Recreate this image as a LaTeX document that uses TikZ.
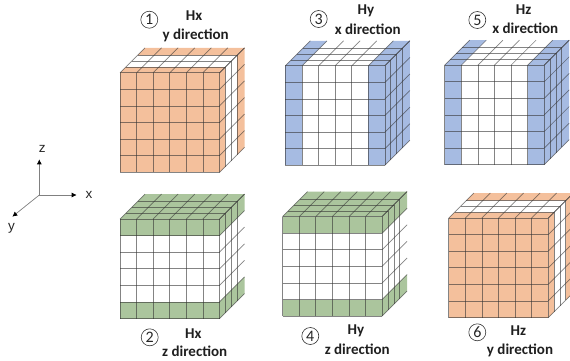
\documentclass[tikz,border=0pt]{standalone}
\usepackage{fontspec}
\setmainfont{Carlito}
\newfontfamily\axisfont{Liberation Sans}
\definecolor{cuOrange}{HTML}{F4C09C}
\definecolor{cuBlue}{HTML}{A6BBE2}
\definecolor{cuGreen}{HTML}{ABC59D}
\tikzset{
  gridline/.style={draw=black!80,line width=0.7pt,opacity=0.6},
  caption/.style={font=\bfseries\fontsize{15}{17}\selectfont,inner sep=0pt,text=black!88},
  numring/.style={circle,draw=black!80,line width=0.6pt,minimum size=17pt,inner sep=0pt,font=\fontsize{16}{18}\selectfont,text=black!85},
  axisline/.style={draw=black!50,line width=0.7pt,-{Latex[length=5pt,width=5pt,black]}},
  axislabel/.style={font=\axisfont\fontsize{13.5}{15}\selectfont,inner sep=0pt,text=black!85}
}
\usetikzlibrary{arrows.meta}
\newcommand{\cw}{99.5}
\newcommand{\cd}{25}
% top-face patch: u from,to (fractions of width); v from,to (fractions of depth)
\newcommand{\toppatch}[5]{\fill[#5] ({#1*\cw+#3*\cd},{-#3*\cd}) -- ({#2*\cw+#3*\cd},{-#3*\cd}) -- ({#2*\cw+#4*\cd},{-#4*\cd}) -- ({#1*\cw+#4*\cd},{-#4*\cd}) -- cycle;}
% side-face patch: t from,to (fractions of height); v from,to
\newcommand{\sidepatch}[5]{\fill[#5] ({\cw+#3*\cd},{#1*\cw-#3*\cd}) -- ({\cw+#3*\cd},{#2*\cw-#3*\cd}) -- ({\cw+#4*\cd},{#2*\cw-#4*\cd}) -- ({\cw+#4*\cd},{#1*\cw-#4*\cd}) -- cycle;}
\newcommand{\cubegrid}{%
  \foreach \k in {0,...,6}{
    \draw[gridline] ({\k*\cw/6},0) -- ({\k*\cw/6},\cw);
    \draw[gridline] (0,{\k*\cw/6}) -- (\cw,{\k*\cw/6});
    \draw[gridline] ({\k*\cw/6},0) -- ({\k*\cw/6+\cd},-\cd);
    \draw[gridline] (\cw,{\k*\cw/6}) -- ({\cw+\cd},{\k*\cw/6-\cd});
  }
  \foreach \v in {0.23,0.47,0.70}{
    \draw[gridline] ({\v*\cd},{-\v*\cd}) -- ({\cw+\v*\cd},{-\v*\cd}) -- ({\cw+\v*\cd},{\cw-\v*\cd});
  }
}
\newcommand{\cubebase}{\fill[white] (0,0) -- (\cd,-\cd) -- ({\cw+\cd},-\cd) -- ({\cw+\cd},{\cw-\cd}) -- (\cw,\cw) -- (0,\cw) -- cycle;}
% normal along y: front all, back and front layers coloured
\newcommand{\cubeY}[3]{\begin{scope}[shift={(#1,#2)}]\cubebase
  \fill[#3] (0,0) rectangle (\cw,\cw);
  \toppatch{0}{1}{0}{0.23}{#3}\toppatch{0}{1}{0.70}{1}{#3}
  \sidepatch{0}{1}{0}{0.23}{#3}\sidepatch{0}{1}{0.70}{1}{#3}
  \cubegrid\end{scope}}
% normal along x: left and right columns, whole side
\newcommand{\cubeX}[3]{\begin{scope}[shift={(#1,#2)}]\cubebase
  \fill[#3] (0,0) rectangle ({\cw/6},\cw);
  \fill[#3] ({5*\cw/6},0) rectangle (\cw,\cw);
  \toppatch{0}{0.16667}{0}{1}{#3}\toppatch{0.83333}{1}{0}{1}{#3}
  \sidepatch{0}{1}{0}{1}{#3}
  \cubegrid\end{scope}}
% normal along z: top and bottom rows, whole top
\newcommand{\cubeZ}[3]{\begin{scope}[shift={(#1,#2)}]\cubebase
  \fill[#3] (0,0) rectangle (\cw,{\cw/6});
  \fill[#3] (0,{5*\cw/6}) rectangle (\cw,\cw);
  \toppatch{0}{1}{0}{1}{#3}
  \sidepatch{0}{0.16667}{0}{1}{#3}\sidepatch{0.83333}{1}{0}{1}{#3}
  \cubegrid\end{scope}}
\begin{document}
\begin{tikzpicture}[x=1pt,y=-1pt]
\useasboundingbox (0,0) rectangle (570,360);
\clip (0,0) rectangle (570,360);
\cubeY{120}{72.8}{cuOrange}
\cubeX{285.4}{65.8}{cuBlue}
\cubeX{444.7}{65.2}{cuBlue}
\cubeZ{120}{219}{cuGreen}
\cubeZ{282.6}{216.6}{cuGreen}
\cubeY{448.8}{218}{cuOrange}
% captions
\node[numring] (n1) at (149.3,19.7) {1};
\node[caption] (a1) at (194,16) {Hx};
\node[caption] (b1) at (195.7,35) {y direction};
\node[numring] (n3) at (318.7,19) {3};
\node[caption] (a3) at (366,11) {Hy};
\node[caption] (b3) at (367.7,29.5) {x direction};
\node[numring] (n5) at (477.3,20) {5};
\node[caption] (a5) at (523.7,9.5) {Hz};
\node[caption] (b5) at (525.3,28) {x direction};
\node[numring] (n2) at (149.7,337.3) {2};
\node[caption] (a2) at (193.3,334) {Hx};
\node[caption] (b2) at (194.7,351.5) {z direction};
\node[numring] (n4) at (310.3,336) {4};
\node[caption] (a4) at (356,331) {Hy};
\node[caption] (b4) at (357.3,349.3) {z direction};
\node[numring] (n6) at (477.3,332.3) {6};
\node[caption] (a6) at (518.3,331) {Hz};
\node[caption] (b6) at (520,350) {y direction};
% axes
\coordinate (o) at (39.3,195);
\coordinate (zt) at (39.3,159.3);
\coordinate (xt) at (76.7,195);
\coordinate (yt) at (12.3,216.7);
\draw[axisline] (o) -- (zt);
\draw[axisline] (o) -- (xt);
\draw[axisline] (o) -- (yt);
\node[axislabel] (lz) at (42.3,149) {z};
\node[axislabel] (lx) at (89,195) {x};
\node[axislabel] (ly) at (11.5,228) {y};
\end{tikzpicture}
\end{document}
